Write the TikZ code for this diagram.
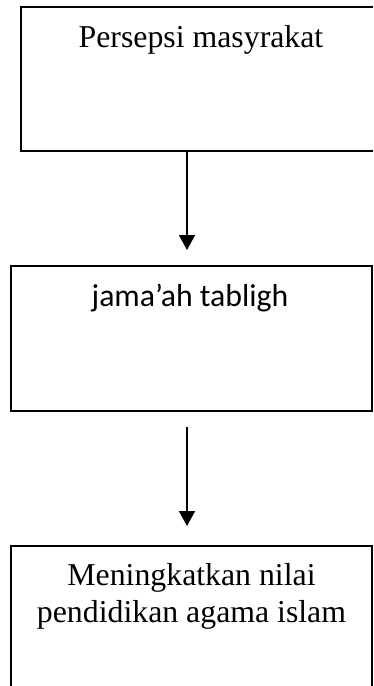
\documentclass[tikz,border=0pt]{standalone}
\usepackage{fontspec}
\setmainfont{Liberation Serif}
\newfontfamily\sansbody{Carlito}
\usetikzlibrary{arrows.meta}

\tikzset{
  stepbox/.style={draw=black, line width=1.8bp, rectangle, inner sep=0pt},
  serifbig/.style={font=\fontsize{31.8bp}{37bp}\selectfont, inner sep=0pt},
  sansbig/.style={font=\sansbody\fontsize{31.8bp}{37bp}\selectfont, inner sep=0pt},
  flow/.style={line width=1.8bp, -{Triangle[width=16bp,length=15bp]}}
}

\begin{document}
\begin{tikzpicture}[x=1bp, y=-1bp]
  \clip (0,0) rectangle (373,686);
  \fill[white] (0,0) rectangle (373,686);

  % three boxes of the flow
  \node[stepbox, minimum width=360bp, minimum height=144bp] (b1) at (201,79) {};
  \node[stepbox, minimum width=361bp, minimum height=145bp] (b2) at (191.5,338.5) {};
  \node[stepbox, minimum width=361bp, minimum height=150bp] (b3) at (191.5,621) {};

  % box labels
  \node[serifbig, anchor=base] (t1) at (201,48) {Persepsi masyrakat};
  \node[sansbig, anchor=base] (t2) at (190,306.5) {jama’ah tabligh};
  \node[serifbig, anchor=base] (t3a) at (191.5,585) {Meningkatkan nilai};
  \node[serifbig, anchor=base] (t3b) at (191.5,622) {pendidikan agama islam};

  % connectors
  \coordinate (a1s) at (187,151);
  \coordinate (a1e) at (187,250);
  \coordinate (a2s) at (187,427);
  \coordinate (a2e) at (187,526);
  \draw[flow] (a1s) -- (a1e);
  \draw[flow] (a2s) -- (a2e);
\end{tikzpicture}
\end{document}
